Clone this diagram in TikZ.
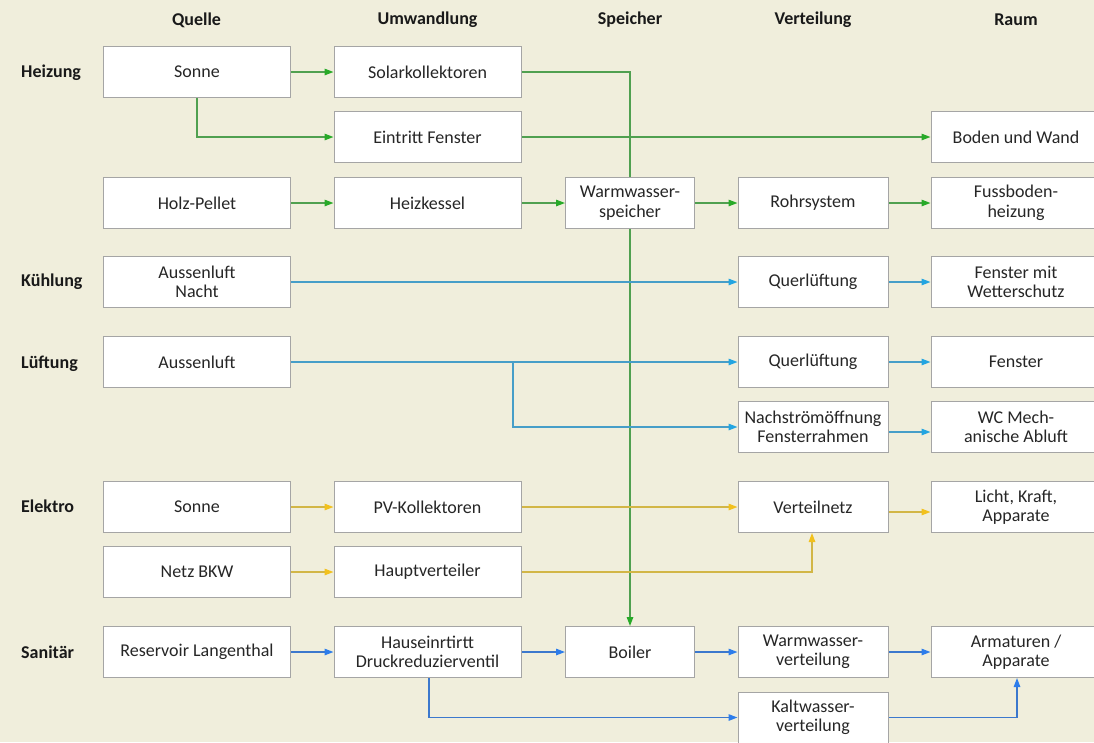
\documentclass[tikz,border=0pt]{standalone}
\usepackage{fontspec}
\setmainfont{Carlito}
\usetikzlibrary{arrows.meta}
\definecolor{bgc}{RGB}{240,238,220}
\definecolor{boxc}{RGB}{165,165,165}
\definecolor{glinec}{RGB}{80,160,80}
\definecolor{ghead}{RGB}{40,170,40}
\definecolor{clinec}{RGB}{70,158,200}
\definecolor{chead}{RGB}{35,165,225}
\definecolor{ylinec}{RGB}{210,182,70}
\definecolor{yhead}{RGB}{242,193,30}
\definecolor{blinec}{RGB}{60,120,205}
\definecolor{bhead}{RGB}{45,125,235}
\pgfdeclarelayer{bglayer}
\pgfdeclarelayer{lines}
\pgfsetlayers{bglayer,lines,main}
\begin{document}
\begin{tikzpicture}[x=1pt,y=-1pt,
  box/.style={draw=boxc, fill=white, line width=1pt, minimum height=51pt, inner sep=0pt, align=center, font=\fontsize{18}{19.5}\selectfont, text=black!85},
  qcol/.style={box, minimum width=187pt},
  ucol/.style={box, minimum width=187pt},
  scol/.style={box, minimum width=129pt},
  vcol/.style={box, minimum width=150pt},
  rcol/.style={box, minimum width=170pt},
  head/.style={font=\fontsize{18}{19.5}\selectfont\bfseries, text=black!90},
  rowlab/.style={font=\fontsize{18}{19.5}\selectfont\bfseries, text=black!90, anchor=west, inner sep=0pt},
  garr/.style={draw=glinec, line width=1.3pt, -{Triangle[length=9pt,width=6.5pt,color=ghead]}},
  carr/.style={draw=clinec, line width=1.3pt, -{Triangle[length=9pt,width=6.5pt,color=chead]}},
  yarr/.style={draw=ylinec, line width=1.3pt, -{Triangle[length=9pt,width=6.5pt,color=yhead]}},
  barr/.style={draw=blinec, line width=1.3pt, -{Triangle[length=9pt,width=6.5pt,color=bhead]}}
]
\begin{pgfonlayer}{bglayer}
\fill[bgc] (0,0) rectangle (1094,742);
\end{pgfonlayer}
\useasboundingbox (0,0) rectangle (1094,742);
\clip (0,0) rectangle (1094,742);

% headers
\node[head] (hq) at (196.5,20) {Quelle};
\node[head] (hu) at (427.5,20) {Umwandlung};
\node[head] (hs) at (630,20) {Speicher};
\node[head] (hv) at (813,20) {Verteilung};
\node[head] (hr) at (1016,20) {Raum};

% row labels
\node[rowlab] (lh) at (21,73) {Heizung};
\node[rowlab] (lk) at (21,282) {Kühlung};
\node[rowlab] (ll) at (21,364) {Lüftung};
\node[rowlab] (le) at (21,506) {Elektro};
\node[rowlab] (ls) at (21,652) {Sanitär};

% Heizung
\node[qcol] (hsonne) at (197,72) {Sonne};
\node[ucol] (solar) at (427.5,72) {Solarkollektoren};
\node[ucol] (eintritt) at (427.5,137) {Eintritt Fenster};
\node[rcol] (boden) at (1016,137) {Boden und Wand};
\node[qcol] (holz) at (197,203) {Holz-Pellet};
\node[ucol] (kessel) at (427.5,203) {Heizkessel};
\node[scol] (speicher) at (630,203) {Warmwasser-\\speicher};
\node[vcol] (rohr) at (813,203) {Rohrsystem};
\node[rcol] (fuss) at (1016,203) {Fussboden-\\heizung};

% Kuehlung
\node[qcol] (knacht) at (197,282) {Aussenluft\\Nacht};
\node[vcol] (kquer) at (813,282) {Querlüftung};
\node[rcol] (kfen) at (1016,282) {Fenster mit\\Wetterschutz};

% Lueftung
\node[qcol] (laus) at (197,362) {Aussenluft};
\node[vcol] (lquer) at (813,362) {Querlüftung};
\node[rcol] (lfen) at (1016,362) {Fenster};
\node[vcol] (nach) at (813,427) {Nachströmöffnung\\Fensterrahmen};
\node[rcol] (wc) at (1016,427) {WC Mech-\\anische Abluft};

% Elektro
\node[qcol] (esonne) at (197,507) {Sonne};
\node[ucol] (pv) at (427.5,507) {PV-Kollektoren};
\node[vcol] (vnetz) at (813,507) {Verteilnetz};
\node[rcol] (licht) at (1016,507) {Licht, Kraft,\\Apparate};
\node[qcol] (bkw) at (197,572) {Netz BKW};
\node[ucol] (haupt) at (427.5,572) {Hauptverteiler};

% Sanitaer
\node[qcol] (res) at (197,652) {Reservoir Langenthal};
\node[ucol] (haus) at (427.5,652) {Hauseinrtirtt\\Druckreduzierventil};
\node[scol] (boiler) at (630,652) {Boiler};
\node[vcol] (warm) at (813,652) {Warmwasser-\\verteilung};
\node[rcol] (arm) at (1016,652) {Armaturen /\\Apparate};
\node[vcol] (kalt) at (813,717.5) {Kaltwasser-\\verteilung};

\coordinate (lb) at (513,362);

\begin{pgfonlayer}{lines}
% green
\draw[garr] (hsonne) -- (solar);
\draw[garr] (hsonne.south) |- (eintritt.west);
\draw[garr] (eintritt) -- (boden);
\draw[garr] (holz) -- (kessel);
\draw[garr] (kessel) -- (speicher);
\draw[garr] (speicher) -- (rohr);
\draw[garr] (rohr) -- (fuss);
\draw[garr] (solar.east) -| (boiler.north);
% cyan
\draw[carr] (knacht) -- (kquer);
\draw[carr] (kquer) -- (kfen);
\draw[carr] (laus) -- (lquer);
\draw[carr] (lquer) -- (lfen);
\draw[carr] (lb) |- (nach.west);
\draw[carr] ([yshift=-5pt]nach.east) -- ([yshift=-5pt]wc.west);
% yellow
\draw[yarr] (esonne) -- (pv);
\draw[yarr] (pv) -- (vnetz);
\draw[yarr] ([yshift=-5pt]vnetz.east) -- ([yshift=-5pt]licht.west);
\draw[yarr] (bkw) -- (haupt);
\draw[yarr] (haupt.east) -| ([xshift=-1pt]vnetz.south);
% blue
\draw[barr] (res) -- (haus);
\draw[barr] (haus) -- (boiler);
\draw[barr] (boiler) -- (warm);
\draw[barr] (warm) -- (arm);
\draw[barr] ([xshift=1.5pt]haus.south) |- (kalt.west);
\draw[barr] (kalt.east) -| ([xshift=1pt]arm.south);
\end{pgfonlayer}
\end{tikzpicture}
\end{document}
